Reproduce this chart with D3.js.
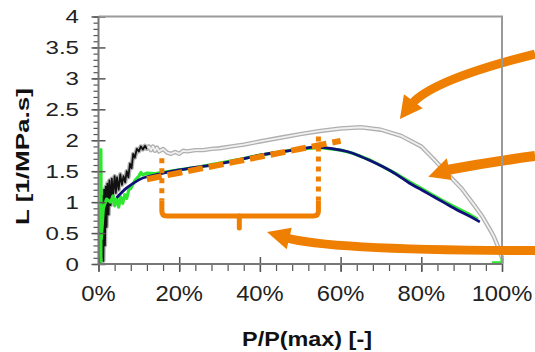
<!DOCTYPE html>
<html>
<head>
<meta charset="utf-8">
<script src="https://cdn.jsdelivr.net/npm/d3@7"></script>
<style>
  body { margin: 0; background: #fff; }
  svg { display: block; font-family: Arial, "Liberation Sans", sans-serif; }
</style>
</head>
<body>
<div id="wrapper"></div>
<script>
// raw L (black noisy start, then grey)
const rawBlack = [
  [0.004, 0], [0.006, 0.9], [0.008, 0.1], [0.01, 1.1], [0.012, 0.05], [0.014, 1.2],
  [0.016, 0.3], [0.018, 1.25], [0.02, 0.6], [0.022, 1.3], [0.025, 0.8], [0.027, 1.35],
  [0.03, 0.95], [0.033, 1.38], [0.036, 1.1], [0.04, 1.42], [0.043, 1.15], [0.046, 1.4],
  [0.05, 1.2], [0.054, 1.45], [0.058, 1.28], [0.062, 1.42], [0.066, 1.32], [0.07, 1.5],
  [0.074, 1.4], [0.078, 1.62], [0.082, 1.55], [0.086, 1.78], [0.09, 1.72], [0.095, 1.86],
  [0.1, 1.82], [0.105, 1.9], [0.11, 1.85], [0.115, 1.91], [0.12, 1.86]
]
const rawGrey = [
  [0.12, 1.86], [0.125, 1.9], [0.13, 1.84], [0.135, 1.9], [0.14, 1.83], [0.145, 1.88],
  [0.15, 1.82], [0.16, 1.86], [0.17, 1.8], [0.18, 1.78], [0.19, 1.81], [0.2, 1.78],
  [0.21, 1.83], [0.22, 1.82], [0.24, 1.84], [0.26, 1.84], [0.28, 1.86], [0.3, 1.87],
  [0.33, 1.9], [0.36, 1.93], [0.4, 1.98], [0.45, 2.04], [0.5, 2.1], [0.55, 2.15],
  [0.6, 2.19], [0.65, 2.21], [0.7, 2.17], [0.75, 2.07], [0.8, 1.9], [0.83, 1.7],
  [0.86, 1.49], [0.9, 1.22], [0.93, 0.96], [0.95, 0.78], [0.97, 0.56], [0.98, 0.44],
  [0.99, 0.28], [1.0, 0.1]
]
// green measured series (null = break)
const greenL = [
  [0.006, 0.02], [0.006, 1.85], [0.007, 0.4], [0.012, 0.9], [0.02, 1.05], [0.03, 1.0],
  [0.036, 1.1], [0.04, 0.94], [0.045, 1.06], [0.05, 0.92], [0.055, 1.08], [0.06, 0.98],
  [0.065, 1.12], [0.07, 1.06], [0.075, 1.2], [0.08, 1.22], [0.09, 1.35], [0.1, 1.42],
  [0.105, 1.48], [0.11, 1.44], [0.12, 1.47], [0.14, 1.46], [0.16, 1.48], [0.2, 1.52],
  [0.25, 1.57], [0.3, 1.63], [0.35, 1.69], [0.4, 1.76], [0.45, 1.81], [0.5, 1.86],
  [0.55, 1.88], [0.6, 1.84], [0.63, 1.79], [0.67, 1.69], [0.7, 1.59], [0.74, 1.45],
  [0.77, 1.33], [0.8, 1.22], [0.83, 1.11], [0.86, 1.0], [0.89, 0.9], [0.92, 0.8],
  [0.94, 0.72], null, [0.975, 0.02], [1.0, 0.02], [1.0, 0.1]
]
// smooth fit (navy)
const fitL = [
  [0.045, 1.07], [0.07, 1.23], [0.1, 1.36], [0.12, 1.41], [0.16, 1.47], [0.2, 1.52],
  [0.25, 1.57], [0.285, 1.6], [0.33, 1.66], [0.367, 1.71], [0.4, 1.76], [0.45, 1.81],
  [0.5, 1.86], [0.53, 1.89], [0.56, 1.88], [0.6, 1.84], [0.63, 1.79], [0.67, 1.68],
  [0.705, 1.57], [0.74, 1.44], [0.77, 1.31], [0.8, 1.2], [0.83, 1.09], [0.86, 0.98],
  [0.89, 0.87], [0.92, 0.77], [0.945, 0.68]
]
// linear part (orange dashed)
const linearL = [[0.12, 1.37], [0.6, 1.99]]

// bracket annotation (data units)
const bracketX = [0.157, 0.545]
const bracketTop = [1.71, 2.06]
const bracketSolidFrom = 1.03
const bracketBottom = 0.776
const bracketTick = [0.349, 0.58]

// arrows: shaft [start, control, end], head [tip, wing, wing]
const arrowShafts = [
  [[1.082, 3.394], [0.8186, 2.966], [0.772, 2.554]],
  [[1.082, 1.745], [0.9703, 1.648], [0.8637, 1.519]],
  [[1.082, 0.218], [0.5737, 0.218], [0.4622, 0.428]]
]
const arrowHeads = [
  [[0.747, 2.343], [0.757, 2.743], [0.8035, 2.516]],
  [[0.8174, 1.411], [0.863, 1.708], [0.8753, 1.358]],
  [[0.4176, 0.517], [0.4788, 0.587], [0.4664, 0.238]]
]

const yTicks = [0, 0.5, 1, 1.5, 2, 2.5, 3, 3.5, 4]
const yTickLabels = ["0", "0.5", "1", "1.5", "2", "2.5", "3", "3.5", "4"]
const xTicks = [0, 0.2, 0.4, 0.6, 0.8, 1]
const xTickLabels = ["0%", "20%", "40%", "60%", "80%", "100%"]

function drawChart() {
  const dimensions = {
    width: 535,
    height: 352,
    margins: { top: 16.5, right: 33, bottom: 88, left: 98.5 },
  }
  dimensions.boundedWidth = dimensions.width - dimensions.margins.left - dimensions.margins.right
  dimensions.boundedHeight = dimensions.height - dimensions.margins.top - dimensions.margins.bottom

  const orange = "#EE7F00"

  const wrapper = d3.select("#wrapper")
    .append("svg")
    .attr("width", dimensions.width)
    .attr("height", dimensions.height)

  const bounds = wrapper.append("g")
    .attr("transform", `translate(${dimensions.margins.left},${dimensions.margins.top})`)

  const xScale = d3.scaleLinear().domain([0, 1]).range([0, dimensions.boundedWidth])
  const yScale = d3.scaleLinear().domain([0, 4]).range([dimensions.boundedHeight, 0])

  const line = d3.line()
    .defined((d) => d !== null)
    .x((d) => xScale(d[0]))
    .y((d) => yScale(d[1]))

  // grey raw curve: drawn as a hollow double line
  const greyAll = rawBlack.concat(rawGrey.slice(1))
  bounds.append("path").attr("d", line(greyAll))
    .attr("fill", "none").attr("stroke", "#b0b0b0").attr("stroke-width", 4.4)
    .attr("stroke-linejoin", "round")
  bounds.append("path").attr("d", line(rawGrey))
    .attr("fill", "none").attr("stroke", "#f0f0f0").attr("stroke-width", 1.8)
    .attr("stroke-linejoin", "round")
  bounds.append("path").attr("d", line(rawBlack))
    .attr("fill", "none").attr("stroke", "#111").attr("stroke-width", 1.8)
    .attr("stroke-linejoin", "round")

  // green measured
  bounds.append("path").attr("d", line(greenL))
    .attr("fill", "none").attr("stroke", "#2ee82e").attr("stroke-width", 3.2)
    .attr("stroke-linejoin", "round")

  // navy fit
  bounds.append("path").attr("d", line.curve(d3.curveNatural)(fitL))
    .attr("fill", "none").attr("stroke", "#10107a").attr("stroke-width", 2.8)
  line.curve(d3.curveLinear)

  // orange dashed linear fit
  bounds.append("path").attr("d", line(linearL))
    .attr("fill", "none").attr("stroke", orange).attr("stroke-width", 6)
    .attr("stroke-dasharray", "15,6")

  // bracket: dotted verticals + solid U with tick
  bracketX.forEach((bx, i) => {
    bounds.append("line")
      .attr("x1", xScale(bx)).attr("x2", xScale(bx))
      .attr("y1", yScale(bracketTop[i])).attr("y2", yScale(bracketSolidFrom))
      .attr("stroke", orange).attr("stroke-width", 5)
      .attr("stroke-dasharray", "5,5")
  })
  const r = 5
  const bx0 = xScale(bracketX[0]), bx1 = xScale(bracketX[1])
  const by = yScale(bracketBottom), bs = yScale(bracketSolidFrom)
  bounds.append("path")
    .attr("d", `M${bx0},${bs} L${bx0},${by - r} Q${bx0},${by} ${bx0 + r},${by}
                L${bx1 - r},${by} Q${bx1},${by} ${bx1},${by - r} L${bx1},${bs}`)
    .attr("fill", "none").attr("stroke", orange).attr("stroke-width", 5)
  bounds.append("line")
    .attr("x1", xScale(bracketTick[0])).attr("x2", xScale(bracketTick[0]))
    .attr("y1", by).attr("y2", yScale(bracketTick[1]))
    .attr("stroke", orange).attr("stroke-width", 5).attr("stroke-linecap", "round")

  // axes
  const axisColor = "#555"
  const yAxis = bounds.append("g")
    .call(d3.axisLeft(yScale).tickValues(yTicks).tickSize(7).tickFormat(""))
  yAxis.select(".domain").remove()
  yAxis.selectAll(".tick line").attr("x1", 7).attr("stroke", axisColor).attr("stroke-width", 1.5)
  const yMinor = bounds.append("g")
    .call(d3.axisLeft(yScale).tickValues(d3.range(0, 4.001, 0.1)).tickSize(5).tickFormat(""))
  yMinor.select(".domain").remove()
  yMinor.selectAll(".tick line").attr("stroke", axisColor).attr("stroke-width", 1.2)

  const xAxis = bounds.append("g")
    .attr("transform", `translate(0,${dimensions.boundedHeight})`)
    .call(d3.axisBottom(xScale).tickValues(xTicks).tickSize(8).tickFormat(""))
  xAxis.select(".domain").remove()
  xAxis.selectAll(".tick line").attr("y1", -7).attr("stroke", axisColor).attr("stroke-width", 1.5)
  const xMinor = bounds.append("g")
    .attr("transform", `translate(0,${dimensions.boundedHeight})`)
    .call(d3.axisBottom(xScale).tickValues(d3.range(0, 1.001, 0.04)).tickSize(7).tickFormat(""))
  xMinor.select(".domain").remove()
  xMinor.selectAll(".tick line").attr("stroke", axisColor).attr("stroke-width", 1.2)

  // arrows (quadratic shafts + triangular heads)
  const drawArrow = (i, w) => {
    const [s, c, e] = arrowShafts[i]
    const p = d3.path()
    p.moveTo(xScale(s[0]), yScale(s[1]))
    p.quadraticCurveTo(xScale(c[0]), yScale(c[1]), xScale(e[0]), yScale(e[1]))
    bounds.append("path").attr("d", p.toString())
      .attr("fill", "none").attr("stroke", orange).attr("stroke-width", w)
    bounds.append("path")
      .attr("d", "M" + arrowHeads[i].map((q) => [xScale(q[0]), yScale(q[1])].join(",")).join("L") + "Z")
      .attr("fill", orange)
  }
  drawArrow(0, 9)
  drawArrow(1, 10)

  // frame
  bounds.append("path")
    .attr("d", `M0,0 L${dimensions.boundedWidth},0 L${dimensions.boundedWidth},${dimensions.boundedHeight}`)
    .attr("fill", "none").attr("stroke", "#9a9a9a").attr("stroke-width", 2)
  bounds.append("path")
    .attr("d", `M0,0 L0,${dimensions.boundedHeight} L${dimensions.boundedWidth},${dimensions.boundedHeight}`)
    .attr("fill", "none").attr("stroke", "#777").attr("stroke-width", 2)

  drawArrow(2, 9)

  // tick labels
  bounds.append("g").selectAll("text").data(yTicks).join("text")
    .attr("transform", (d) => `translate(-19.5,${yScale(d) + 6.5}) scale(1.3,1)`)
    .attr("text-anchor", "end")
    .style("font-size", "18.5px").style("fill", "#222")
    .text((d, i) => yTickLabels[i])

  bounds.append("g").selectAll("text").data(xTicks).join("text")
    .attr("transform", (d) => `translate(${xScale(d)},${dimensions.boundedHeight + 36.5}) scale(1.08,1)`)
    .attr("text-anchor", "middle")
    .style("font-size", "22px").style("fill", "#222")
    .text((d, i) => xTickLabels[i])

  // axis titles
  wrapper.append("text")
    .attr("transform", "translate(307,346) scale(1.2,1)")
    .attr("text-anchor", "middle")
    .style("font-size", "19.5px").style("font-weight", "bold").style("fill", "#111")
    .text("P/P(max) [-]")

  wrapper.append("text")
    .attr("transform", "translate(29,156.5) rotate(-90) scale(1.37,1)")
    .attr("text-anchor", "middle")
    .style("font-size", "19px").style("font-weight", "bold").style("fill", "#111")
    .text("L [1/MPa.s]")
}

drawChart()
</script>
</body>
</html>
